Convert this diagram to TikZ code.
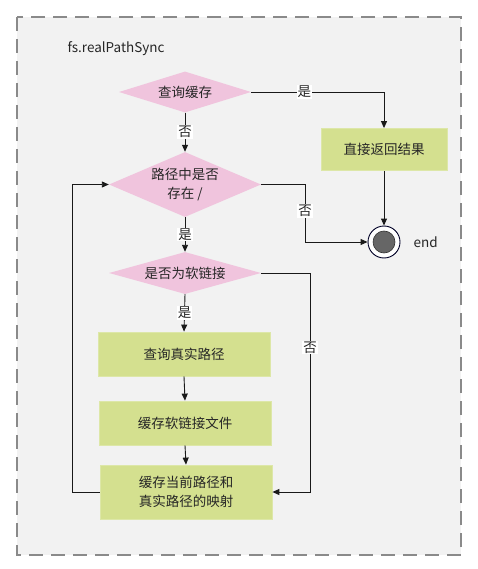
\documentclass[tikz,border=0pt]{standalone}
\usepackage{fontspec}
\setmainfont{Noto Sans CJK SC}
\usetikzlibrary{shapes.geometric,arrows.meta}
\definecolor{pinkf}{HTML}{F0C4DD}
\definecolor{greenf}{HTML}{D4E08F}
\definecolor{greend}{HTML}{DDE7A8}
\definecolor{bgc}{HTML}{F2F2F2}
\definecolor{dashc}{HTML}{8A8A8A}
\tikzset{
  every node/.style={font=\fontsize{13.5}{19}\selectfont, text=black!85},
  dia/.style={diamond, fill=pinkf, inner sep=0pt, align=center},
  gbox/.style={rectangle, fill=greenf, draw=greend, line width=0.8pt, align=center},
  conn/.style={draw=black!90, line width=0.9pt, -{Triangle[length=7pt,width=6pt]}},
  lbl/.style={fill=white, inner sep=1pt}
}
\begin{document}
\begin{tikzpicture}[x=1pt,y=-1pt]
\useasboundingbox (0,0) rectangle (478,569);
\draw[fill=bgc, draw=dashc, line width=2pt, dash pattern=on 14pt off 8pt] (17,17) rectangle (461,555);
\node[anchor=west] (title) at (64,49) {fs.realPathSync};

\node[dia, aspect=3.2, minimum width=132pt, minimum height=41pt] (d1) at (185,92) {查询缓存};
\node[gbox, minimum width=126pt, minimum height=42pt] (r) at (384,149.5) {直接返回结果};
\node[circle, draw=black!85!blue, fill=white, line width=0.9pt, minimum size=32pt, inner sep=0pt] (end) at (384,242) {};
\node[circle, fill=black!60, draw=black!80, line width=0.6pt, minimum size=22pt, inner sep=0pt] (endin) at (384,242) {};
\node[anchor=west] (endlbl) at (410,242) {end};

\node[dia, aspect=2.34, minimum width=152pt, minimum height=65pt] (d2) at (185,184.5) {路径中是否\\存在 /};
\node[dia, aspect=3.6, minimum width=152pt, minimum height=42pt] (d3) at (185,273) {是否为软链接};

\node[gbox, minimum width=172pt, minimum height=44pt] (b1) at (184,354) {查询真实路径};
\node[gbox, minimum width=172pt, minimum height=44pt] (b2) at (185,423) {缓存软链接文件};
\node[gbox, minimum width=172pt, minimum height=54pt] (b3) at (186,492) {缓存当前路径和\\真实路径的映射};

\coordinate (c2) at (305,184.5);
\coordinate (c3) at (310,273);
\coordinate (cl) at (72,492);

\draw[conn] (d1.east) -| node[lbl, pos=0.2] {是} (r.north);
\draw[conn] (d1.south) -- node[lbl] {否} (d2.north);
\draw[conn] (r.south) -- (end.north);
\draw[conn] (d2.east) -- (c2) |- node[lbl, pos=0.23] {否} (end.west);
\draw[conn] (d2.south) -- node[lbl] {是} (d3.north);
\draw[conn] (d3.east) -- (c3) |- node[lbl, pos=0.17] {否} (b3.east);
\draw[conn] (d3.south) -- node[lbl] {是} (b1.north);
\draw[conn] (b1.south) -- (b2.north);
\draw[conn] (b2.south) -- (b3.north);
\draw[conn] (b3.west) -- (cl) |- (d2.west);
\end{tikzpicture}
\end{document}
